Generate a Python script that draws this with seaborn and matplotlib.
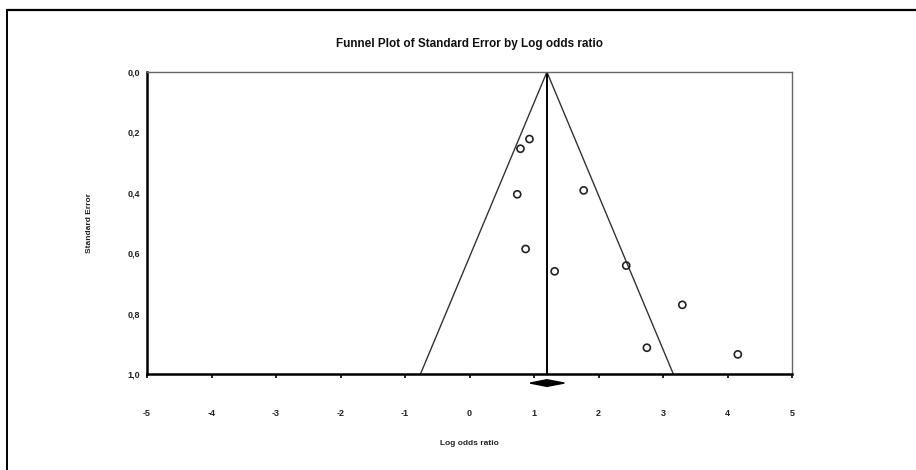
#!/usr/bin/env python3
"""Funnel plot of standard error by log odds ratio."""

import numpy as np
import pandas as pd
import matplotlib
matplotlib.use("Agg")
import matplotlib.pyplot as plt
from matplotlib.lines import Line2D
import seaborn as sns

# study estimates
log_odds = [0.93, 0.79, 0.74, 0.87, 1.77, 1.32, 2.43, 3.30, 2.75, 4.16]
std_err = [0.222, 0.254, 0.405, 0.586, 0.392, 0.660, 0.641, 0.771, 0.913, 0.935]

# pooled estimate and its interval (diamond under the axis)
pooled_lor = 1.2
pooled_ci = [0.94, 1.47]
diamond_se = 1.03

x_ticks = [-5, -4, -3, -2, -1, 0, 1, 2, 3, 4, 5]
y_ticks = [0.0, 0.2, 0.4, 0.6, 0.8, 1.0]
y_tick_labels = ["0,0", "0,2", "0,4", "0,6", "0,8", "1,0"]

df = pd.DataFrame({"lor": log_odds, "se": std_err})

sns.set_theme(style="white")
plt.rcParams["font.family"] = ["Liberation Sans", "DejaVu Sans"]

fig = plt.figure(figsize=(9.16, 4.70), dpi=100)
ax = fig.add_axes([147 / 916, 96 / 470, 645 / 916, 302 / 470])

# funnel (95% pseudo confidence limits)
se_max = 1.0
ax.plot([pooled_lor, pooled_lor - 1.96 * se_max], [0, se_max], color="#333333", lw=1.0)
ax.plot([pooled_lor, pooled_lor + 1.96 * se_max], [0, se_max], color="#333333", lw=1.0)
ax.plot([pooled_lor, pooled_lor], [0, se_max], color="black", lw=1.4)

sns.scatterplot(data=df, x="lor", y="se", ax=ax, marker="o", s=26,
                facecolors="none", edgecolor="#222222", linewidth=1.2, zorder=5)

# pooled diamond
lo, hi = pooled_ci
ax.fill([lo, pooled_lor, hi, pooled_lor], [diamond_se, diamond_se - 0.011, diamond_se, diamond_se + 0.011],
        color="black", clip_on=False, zorder=6)

ax.set_xlim(-5, 5)
ax.set_ylim(1.0, 0.0)
ax.set_xticks(x_ticks)
ax.set_xticklabels([str(t) for t in x_ticks], fontsize=6.5, fontweight="bold", color="#222222")
ax.set_yticks(y_ticks)
ax.set_yticklabels(y_tick_labels, fontsize=6.5, fontweight="bold", color="#222222")
ax.tick_params(axis="x", direction="out", length=3, width=1.2, color="black", pad=22, bottom=True)
ax.tick_params(axis="y", length=0, pad=5)

for side in ["left", "bottom"]:
    ax.spines[side].set_color("black")
    ax.spines[side].set_linewidth(1.8)
for side in ["top", "right"]:
    ax.spines[side].set_color("#666666")
    ax.spines[side].set_linewidth(1.0)

ax.set_xlabel("Log odds ratio", fontsize=6, fontweight="bold", color="#222222", labelpad=16)
ax.set_ylabel("Standard Error", fontsize=6, fontweight="bold", color="#222222", labelpad=25)
ax.set_title("Funnel Plot of Standard Error by Log odds ratio", fontsize=8.5, fontweight="bold",
             color="#111111", pad=18)

# outer frame (top and left edges only)
fig.add_artist(Line2D([7 / 916, 1], [1 - 10 / 470, 1 - 10 / 470], color="black", lw=1.6,
                      transform=fig.transFigure))
fig.add_artist(Line2D([7 / 916, 7 / 916], [0, 1 - 10 / 470], color="black", lw=1.4,
                      transform=fig.transFigure))

fig.savefig("out.png", dpi=100)
plt.close(fig)
